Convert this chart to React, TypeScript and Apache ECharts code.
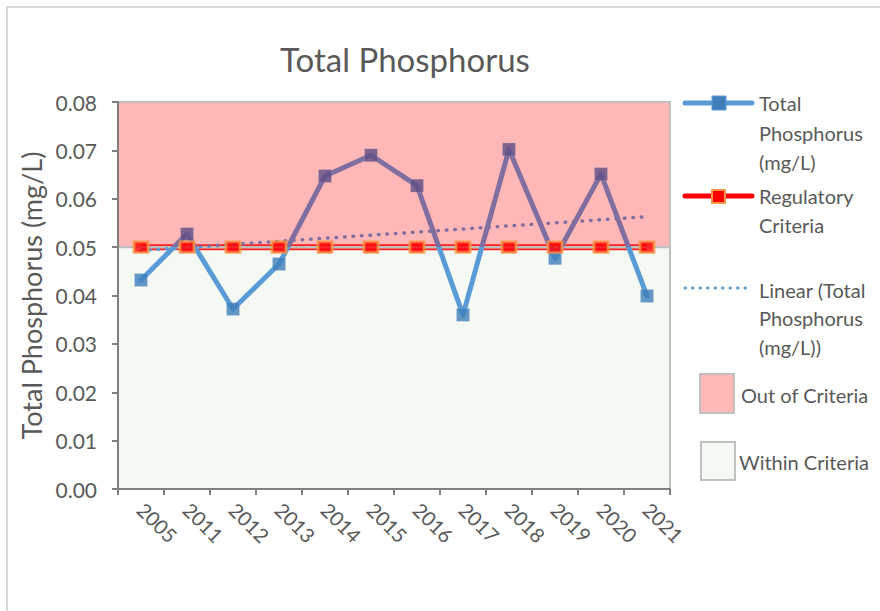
import React, { useEffect, useRef } from "react";
import * as echarts from "echarts";

const categories = ["2005", "2011", "2012", "2013", "2014", "2015", "2016", "2017", "2018", "2019", "2020", "2021"];
const phosphorus = [0.0432, 0.0527, 0.0372, 0.0465, 0.0647, 0.069, 0.0627, 0.036, 0.0702, 0.0477, 0.0651, 0.0399];
const regulatory = [0.05, 0.05, 0.05, 0.05, 0.05, 0.05, 0.05, 0.05, 0.05, 0.05, 0.05, 0.05];
const trendStart = 0.0493;
const trendEnd = 0.0563;
const criterion = 0.05;
const yTicks = { min: 0, max: 0.08, interval: 0.01 };

const FONT = "Lato";
const TXT = "#595959";

export default function App() {
  const ref = useRef<HTMLDivElement>(null);
  useEffect(() => {
    if (!ref.current) return;
    const chart = echarts.init(ref.current, undefined, { renderer: "svg" });
    const last = categories.length - 1;
    const legendText = (lines: string[], x: number, ys: number[]) =>
      lines.map((t, i) => ({
        type: "text",
        x,
        y: ys[i],
        style: { text: t, fill: TXT, font: `20px ${FONT}`, textVerticalAlign: "middle", textAlign: "left" },
      }));
    chart.setOption({
      animation: false,
      backgroundColor: "#ffffff",
      title: {
        text: "Total Phosphorus",
        left: 400,
        top: 37,
        textAlign: "center",
        textStyle: { fontFamily: FONT, fontSize: 33, fontWeight: "normal", color: TXT },
      },
      grid: { left: 118, top: 102, right: 210, bottom: 122 },
      xAxis: {
        type: "category",
        data: categories,
        boundaryGap: true,
        z: 1,
        axisLine: { show: true, lineStyle: { color: "#7f7f7f", width: 2 } },
        axisTick: { show: true, length: 6, lineStyle: { color: "#7f7f7f", width: 2 } },
        axisLabel: { rotate: -45, margin: 17, fontFamily: FONT, fontSize: 20, color: TXT, interval: 0 },
        splitLine: { show: false },
      },
      yAxis: {
        type: "value",
        min: yTicks.min,
        max: yTicks.max,
        interval: yTicks.interval,
        z: 1,
        name: "Total Phosphorus (mg/L)",
        nameLocation: "middle",
        nameGap: 73,
        nameRotate: 90,
        nameTextStyle: { fontFamily: FONT, fontSize: 27, color: TXT },
        axisLine: { show: true, lineStyle: { color: "#7f7f7f", width: 2 } },
        axisTick: { show: true, length: 6, lineStyle: { color: "#7f7f7f", width: 2 } },
        axisLabel: {
          margin: 21,
          fontFamily: FONT,
          fontSize: 21,
          color: TXT,
          formatter: (v: number) => v.toFixed(2),
        },
        splitLine: { show: true, lineStyle: { color: "rgba(0,0,0,0.12)", width: 2 } },
      },
      visualMap: [
        {
          type: "piecewise",
          show: false,
          dimension: 1,
          seriesIndex: [3, 4],
          pieces: [
            { gt: criterion, lte: 1, color: "#806E9E" },
            { gte: -1, lte: criterion, color: "#5B9BD5" },
          ],
        },
        {
          type: "piecewise",
          show: false,
          dimension: 1,
          seriesIndex: [5],
          pieces: [
            { gt: criterion, lte: 1, color: "#5F4E85" },
            { gte: -1, lte: criterion, color: "#3F7EB9" },
          ],
        },
      ],
      series: [
        {
          name: "bg",
          type: "line",
          z: 0,
          data: regulatory,
          showSymbol: false,
          silent: true,
          lineStyle: { width: 0, opacity: 0 },
          markArea: {
            silent: true,
            data: [
              [
                { yAxis: criterion, itemStyle: { color: "#FFB7B7", borderColor: "#BFBFBF", borderWidth: 2 } },
                { yAxis: yTicks.max },
              ],
              [
                { yAxis: yTicks.min, itemStyle: { color: "#F5F9F3", borderColor: "#BFBFBF", borderWidth: 2 } },
                { yAxis: criterion },
              ],
            ],
          },
        },
        {
          name: "Regulatory Criteria line",
          type: "line",
          z: 2,
          data: regulatory,
          showSymbol: false,
          lineStyle: { color: "#FF2020", width: 6 },
        },
        {
          name: "boundary",
          type: "line",
          z: 2.5,
          data: regulatory,
          showSymbol: false,
          lineStyle: { color: "#BFBFBF", width: 2.5 },
        },
        {
          name: "Linear (Total Phosphorus (mg/L))",
          type: "line",
          z: 3,
          data: [
            [0, trendStart],
            [last, trendEnd],
          ],
          showSymbol: false,
          lineStyle: { width: 3.5, type: [0.5, 8], cap: "round" },
        },
        {
          name: "Total Phosphorus (mg/L)",
          type: "line",
          z: 4,
          data: phosphorus,
          showSymbol: false,
          lineStyle: { width: 5, cap: "round", join: "round" },
        },
        {
          name: "Total Phosphorus markers",
          type: "scatter",
          z: 5,
          data: phosphorus,
          symbol: "rect",
          symbolSize: 13,
          itemStyle: { borderColor: "rgba(255,255,255,0.15)", borderWidth: 1 },
        },
        {
          name: "Regulatory Criteria",
          type: "scatter",
          z: 6,
          data: regulatory,
          symbol: "rect",
          symbolSize: [14, 11],
          itemStyle: { color: "#FF0000", borderColor: "#F79646", borderWidth: 2.5 },
        },
      ],
      graphic: [
        {
          type: "rect",
          silent: true,
          shape: { x: 7, y: 7, width: 900, height: 700 },
          style: { fill: "none", stroke: "#D9D9D9", lineWidth: 2 },
        },
        { type: "line", shape: { x1: 685, y1: 103, x2: 752, y2: 103 }, style: { stroke: "#5B9BD5", lineWidth: 5, lineCap: "round" } },
        { type: "rect", shape: { x: 712, y: 96, width: 14, height: 14 }, style: { fill: "#3F7EB9", stroke: "#5B9BD5", lineWidth: 1 } },
        ...legendText(["Total", "Phosphorus", "(mg/L)"], 759, [103, 133, 162]),
        { type: "line", shape: { x1: 685, y1: 196, x2: 752, y2: 196 }, style: { stroke: "#FF0000", lineWidth: 5, lineCap: "round" } },
        { type: "rect", shape: { x: 712, y: 190, width: 13, height: 13 }, style: { fill: "#FF0000", stroke: "#F79646", lineWidth: 2 } },
        ...legendText(["Regulatory", "Criteria"], 759, [196, 225]),
        {
          type: "line",
          shape: { x1: 685, y1: 288, x2: 748, y2: 288 },
          style: { stroke: "#5B9BD5", lineWidth: 3, lineDash: [0.5, 7], lineCap: "round" },
        },
        ...legendText(["Linear (Total", "Phosphorus", "(mg/L))"], 759, [290, 318, 347]),
        { type: "rect", shape: { x: 700, y: 374, width: 34, height: 39 }, style: { fill: "#FFB7B7", stroke: "#BFBFBF", lineWidth: 2 } },
        ...legendText(["Out of Criteria"], 741, [395]),
        { type: "rect", shape: { x: 701, y: 442, width: 34, height: 38 }, style: { fill: "#F5F9F3", stroke: "#BFBFBF", lineWidth: 2 } },
        ...legendText(["Within Criteria"], 739, [462]),
      ],
    });
    return () => chart.dispose();
  }, []);
  return (
    <div
      ref={ref}
      style={{ position: "fixed", left: 0, top: 0, width: 880, height: 611, background: "#fff" }}
    />
  );
}
